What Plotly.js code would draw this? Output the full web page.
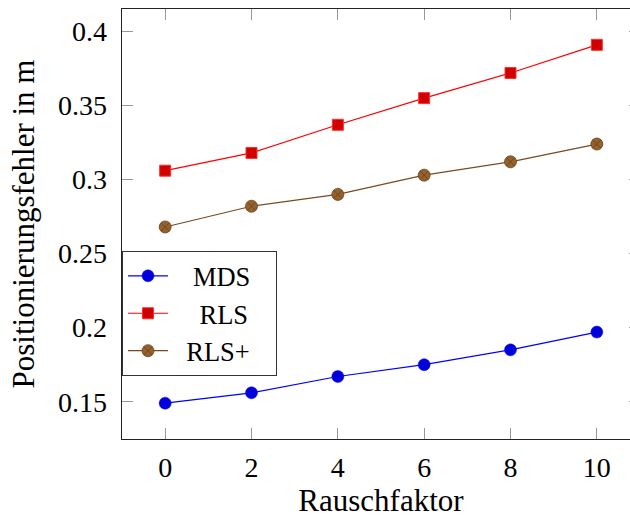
<!DOCTYPE html>
<html>
<head>
<meta charset="utf-8">
<script src="https://cdn.plot.ly/plotly-3.0.1.min.js"></script>
<style>
html,body{margin:0;padding:0;overflow:hidden;background:#fff;}
#chart{width:640px;height:518px;}
</style>
</head>
<body>
<div id="chart"></div>
<script>
const rauschfaktor = [0, 2, 4, 6, 8, 10];
const mds = [0.149, 0.156, 0.167, 0.175, 0.185, 0.197];
const rls = [0.306, 0.318, 0.337, 0.355, 0.372, 0.391];
const rlsPlus = [0.268, 0.282, 0.290, 0.303, 0.312, 0.324];
const seriesNames = ['MDS', 'RLS', 'RLS+'];
const xTicks = [0, 2, 4, 6, 8, 10];
const yTicks = [0.15, 0.2, 0.25, 0.3, 0.35, 0.4];
const yTickLabels = ['0.15', '0.2', '0.25', '0.3', '0.35', '0.4'];

const FONT = '"Liberation Serif", "DejaVu Serif", serif';
const legendPad = ['\u00a0\u00a0\u00a0', '\u00a0\u00a0\u00a0\u00a0', '\u00a0\u00a0'];
const legendTail = '\u00a0\u00a0\u00a0';

const traces = [
  {
    x: rauschfaktor, y: mds, name: legendPad[0] + seriesNames[0] + legendTail, type: 'scatter', mode: 'lines+markers',
    line: {color: '#0000ff', width: 1.2},
    marker: {symbol: 'circle', size: 12, color: '#0000dd', line: {color: '#0000ee', width: 0.5}}
  },
  {
    x: rauschfaktor, y: rls, name: legendPad[1] + seriesNames[1], type: 'scatter', mode: 'lines+markers',
    line: {color: '#ff0000', width: 1.2},
    marker: {symbol: 'square', size: 11, color: '#d00000', line: {color: '#ff3030', width: 1}}
  },
  {
    x: rauschfaktor, y: rlsPlus, name: legendPad[2] + seriesNames[2], type: 'scatter', mode: 'lines+markers',
    line: {color: '#7a4a1e', width: 1.2},
    marker: {symbol: 'circle-x', size: 12, color: '#94612f', line: {color: '#6b4018', width: 0.8}}
  }
];

const layout = {
  width: 640, height: 518,
  margin: {l: 122, r: 0, t: 9, b: 79},
  paper_bgcolor: '#fff', plot_bgcolor: '#fff',
  font: {family: FONT, color: '#000', size: 27},
  showlegend: true,
  legend: {
    x: 0, y: 0.437, xanchor: 'left', yanchor: 'top',
    bgcolor: '#fff', bordercolor: '#333', borderwidth: 1,
    font: {family: FONT, size: 26.5, color: '#000'},
    tracegroupgap: 0, itemwidth: 40
  },
  xaxis: {
    range: [-1, 11],
    tickmode: 'array', tickvals: xTicks, ticktext: xTicks.map(String),
    ticks: 'inside', ticklen: 11, tickwidth: 1, tickcolor: '#999',
    showline: true, linecolor: '#222', linewidth: 1.3, mirror: 'ticks',
    showgrid: false, zeroline: false,
    tickfont: {family: FONT, size: 28, color: '#000'},
    ticklabelstandoff: 3,
    title: {text: 'Rauschfaktor', font: {family: FONT, size: 31, color: '#000'}, standoff: 9}
  },
  yaxis: {
    range: [0.1248, 0.4152],
    tickmode: 'array', tickvals: yTicks, ticktext: yTickLabels,
    ticks: 'inside', ticklen: 11, tickwidth: 1, tickcolor: '#999',
    showline: true, linecolor: '#222', linewidth: 1.3, mirror: 'ticks',
    showgrid: false, zeroline: false,
    tickfont: {family: FONT, size: 28, color: '#000'},
    ticklabelstandoff: 8,
    title: {text: 'Positionierungsfehler in m', font: {family: FONT, size: 31, color: '#000'}, standoff: 14}
  }
};

Plotly.newPlot('chart', traces, layout, {displayModeBar: false, staticPlot: true});
</script>
</body>
</html>
